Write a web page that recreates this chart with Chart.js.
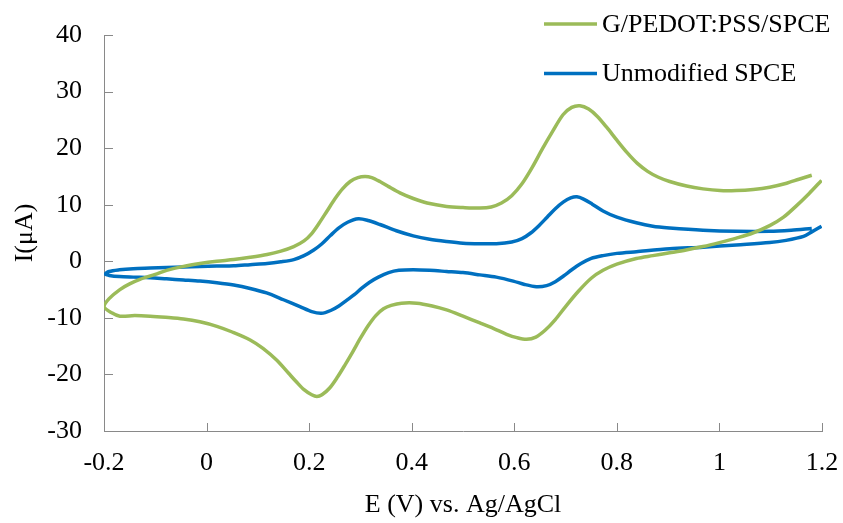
<!DOCTYPE html>
<html lang="en">
<head>
  <meta charset="UTF-8">
  <title>Cyclic voltammogram</title>
  <script src="https://cdn.jsdelivr.net/npm/chart.js"></script>
  <style>
    html, body { margin: 0; padding: 0; background: #fff; }
    #wrap { width: 843px; height: 523px; }
  </style>
</head>
<body>
  <div id="wrap"><canvas id="myChart" width="843" height="523"></canvas></div>
  <script>
    // Series labels
    const seriesLabels = ['G/PEDOT:PSS/SPCE', 'Unmodified SPCE'];

    // G/PEDOT:PSS/SPCE: reverse branch from 1.2 V back to -0.2 V, then forward branch up to 1.18 V
    const gpE = [1.199, 1.175, 1.150, 1.125, 1.098, 1.065, 1.033, 1.000, 0.968, 0.935, 0.903, 0.870, 0.838, 0.800, 0.773, 0.750,
      0.725, 0.700, 0.680, 0.660, 0.642, 0.624, 0.605, 0.585, 0.560, 0.533, 0.500, 0.468, 0.440, 0.410, 0.380, 0.360,
      0.345, 0.330, 0.315, 0.300, 0.285, 0.270, 0.255, 0.240, 0.225, 0.215, 0.205, 0.190, 0.175, 0.160, 0.137, 0.110,
      0.085, 0.050, 0.020, -0.013, -0.045, -0.080, -0.110, -0.140, -0.169, -0.185, -0.200,
      -0.190, -0.169, -0.150, -0.130, -0.100, -0.078, -0.045, -0.013, 0.020, 0.053, 0.085, 0.118, 0.145, 0.170, 0.190,
      0.205, 0.220, 0.235, 0.250, 0.265, 0.280, 0.295, 0.309, 0.322, 0.338, 0.355, 0.377, 0.403, 0.430, 0.468, 0.500,
      0.533, 0.555, 0.575, 0.595, 0.615, 0.635, 0.655, 0.675, 0.695, 0.712, 0.728, 0.745, 0.762, 0.780, 0.800, 0.820,
      0.840, 0.860, 0.880, 0.903, 0.936, 0.968, 1.001, 1.033, 1.066, 1.098, 1.131, 1.155, 1.180];
    const gpI = [14.3, 12.0, 9.8, 7.8, 6.3, 5.0, 4.1, 3.3, 2.6, 2.0, 1.5, 1.0, 0.5, -0.5, -1.6, -3.0,
      -5.3, -8.0, -10.3, -12.2, -13.4, -13.8, -13.5, -12.9, -11.9, -10.9, -9.7, -8.6, -7.9, -7.4, -7.4, -7.8,
      -8.4, -9.6, -11.4, -13.6, -16.0, -18.3, -20.5, -22.4, -23.6, -23.9, -23.6, -22.7, -21.3, -19.8, -17.5, -15.4,
      -13.9, -12.5, -11.5, -10.7, -10.2, -9.9, -9.7, -9.6, -9.7, -9.1, -8.0,
      -6.6, -5.0, -4.0, -3.2, -2.3, -1.6, -0.9, -0.4, 0.0, 0.3, 0.7, 1.2, 1.8, 2.6, 3.6,
      4.9, 6.8, 8.9, 11.0, 12.8, 14.1, 14.8, 15.0, 14.8, 14.1, 13.2, 12.1, 11.1, 10.3, 9.7, 9.5,
      9.4, 9.6, 10.3, 11.6, 13.7, 16.6, 19.9, 23.0, 25.9, 27.2, 27.5, 26.9, 25.6, 23.7, 21.4, 19.2,
      17.3, 15.9, 14.9, 14.1, 13.3, 12.8, 12.5, 12.5, 12.7, 13.1, 13.8, 14.5, 15.2];

    // Unmodified SPCE, same scan order
    const spE = [1.199, 1.180, 1.164, 1.130, 1.098, 1.033, 0.968, 0.903, 0.838, 0.800, 0.773, 0.750, 0.730, 0.712, 0.696,
      0.680, 0.663, 0.643, 0.620, 0.598, 0.565, 0.533, 0.500, 0.468, 0.435, 0.403, 0.375, 0.355, 0.335, 0.318, 0.302,
      0.288, 0.273, 0.258, 0.242, 0.224, 0.205, 0.182, 0.150, 0.117, 0.085, 0.053, 0.020, -0.013, -0.045, -0.078, -0.110,
      -0.143, -0.170, -0.190, -0.198,
      -0.190, -0.170, -0.143, -0.110, -0.078, -0.045, -0.013, 0.020, 0.053, 0.085, 0.118, 0.145, 0.170, 0.190, 0.209,
      0.225, 0.242, 0.258, 0.275, 0.296, 0.315, 0.338, 0.370, 0.403, 0.435, 0.468, 0.500, 0.533, 0.565, 0.595, 0.615,
      0.632, 0.648, 0.664, 0.680, 0.696, 0.710, 0.722, 0.735, 0.752, 0.773, 0.800, 0.838, 0.870, 0.903, 0.968, 1.033,
      1.098, 1.140, 1.180];
    const spI = [6.2, 5.2, 4.4, 3.7, 3.3, 2.9, 2.5, 2.2, 1.7, 1.4, 1.0, 0.5, -0.4, -1.5, -2.6,
      -3.6, -4.3, -4.5, -4.1, -3.5, -2.8, -2.4, -2.0, -1.8, -1.6, -1.5, -1.6, -2.0, -2.8, -3.7, -4.8,
      -5.9, -6.9, -7.9, -8.7, -9.2, -8.9, -8.0, -6.8, -5.6, -4.8, -4.2, -3.8, -3.5, -3.3, -3.1, -2.9,
      -2.8, -2.7, -2.5, -2.3,
      -1.8, -1.5, -1.3, -1.2, -1.1, -1.0, -0.9, -0.85, -0.8, -0.6, -0.4, -0.1, 0.3, 1.0, 2.0,
      3.1, 4.6, 5.9, 6.9, 7.5, 7.2, 6.5, 5.4, 4.5, 3.9, 3.5, 3.2, 3.1, 3.1, 3.4, 4.0,
      5.0, 6.3, 7.8, 9.3, 10.5, 11.2, 11.4, 11.0, 10.1, 8.9, 7.8, 6.8, 6.2, 5.9, 5.5, 5.3,
      5.3, 5.5, 5.8];

    // Axis ticks
    const xTickValues = [-0.2, 0, 0.2, 0.4, 0.6, 0.8, 1, 1.2];
    const xTickLabels = ['-0.2', '0', '0.2', '0.4', '0.6', '0.8', '1', '1.2'];
    const yTickValues = [-30, -20, -10, 0, 10, 20, 30, 40];
    const yTickLabels = ['-30', '-20', '-10', '0', '10', '20', '30', '40'];

    const colors = ['#9BBB59', '#0070C0'];
    const axisColor = '#898989';
    const fontFamily = '"Liberation Serif", "Times New Roman", serif';
    const fontSize = 26;

    function toPoints(xs, ys) {
      return xs.map((x, i) => ({ x: x, y: ys[i] }));
    }

    /**
     * Inward tick marks, like the original Excel plot
     */
    const innerTicks = {
      id: 'innerTicks',
      afterDraw(chart) {
        const ctx = chart.ctx;
        const area = chart.chartArea;
        const xs = chart.scales.x;
        const ys = chart.scales.y;
        ctx.save();
        ctx.strokeStyle = axisColor;
        ctx.lineWidth = 1;
        ctx.beginPath();
        xTickValues.forEach(v => {
          const px = Math.round(xs.getPixelForValue(v)) + 0.5;
          ctx.moveTo(px, area.bottom);
          ctx.lineTo(px, area.bottom - 8);
        });
        yTickValues.forEach(v => {
          const py = Math.round(ys.getPixelForValue(v)) + 0.5;
          ctx.moveTo(area.left, py);
          ctx.lineTo(area.left + 9, py);
        });
        ctx.stroke();
        ctx.restore();
      }
    };

    /**
     * Legend drawn at the top right
     */
    const cornerLegend = {
      id: 'cornerLegend',
      afterDraw(chart) {
        const ctx = chart.ctx;
        ctx.save();
        ctx.font = fontSize + 'px ' + fontFamily;
        ctx.textBaseline = 'middle';
        ctx.textAlign = 'left';
        chart.data.datasets.forEach((ds, i) => {
          const y = 24 + i * 49.5;
          ctx.strokeStyle = ds.borderColor;
          ctx.lineWidth = 3.5;
          ctx.beginPath();
          ctx.moveTo(544, y);
          ctx.lineTo(597, y);
          ctx.stroke();
          ctx.fillStyle = '#000';
          ctx.fillText(ds.label, 602, y + 1);
        });
        ctx.restore();
      }
    };

    const ctx = document.getElementById('myChart').getContext('2d');
    new Chart(ctx, {
      type: 'scatter',
      data: {
        datasets: [
          { label: seriesLabels[0], data: toPoints(gpE, gpI), borderColor: colors[0], backgroundColor: colors[0] },
          { label: seriesLabels[1], data: toPoints(spE, spI), borderColor: colors[1], backgroundColor: colors[1] }
        ]
      },
      options: {
        responsive: false,
        animation: false,
        showLine: true,
        layout: { padding: { top: 35, right: 21, left: 0, bottom: 0 } },
        elements: {
          point: { radius: 0, hoverRadius: 0 },
          line: { borderWidth: 3.5, tension: 0.3, fill: false, capBezierPoints: true }
        },
        plugins: {
          legend: { display: false },
          tooltip: { enabled: false }
        },
        scales: {
          x: {
            type: 'linear',
            min: -0.2,
            max: 1.2,
            afterBuildTicks: s => { s.ticks = xTickValues.map(v => ({ value: v })); },
            afterFit: s => { s.height = 92; s.paddingLeft = 0; s.paddingRight = 0; },
            grid: { display: true, drawOnChartArea: false, drawTicks: false },
            border: { display: true, color: axisColor, width: 1 },
            ticks: {
              padding: 17,
              color: '#000',
              font: { family: fontFamily, size: fontSize },
              maxRotation: 0,
              callback: (v, i) => xTickLabels[i]
            },
            title: {
              display: true,
              text: 'E (V) vs. Ag/AgCl',
              color: '#000',
              font: { family: fontFamily, size: fontSize },
              padding: { top: 0, bottom: 2 }
            }
          },
          y: {
            type: 'linear',
            min: -30,
            max: 40,
            afterBuildTicks: s => { s.ticks = yTickValues.map(v => ({ value: v })); },
            afterFit: s => { s.width = 104; s.paddingTop = 0; s.paddingBottom = 0; },
            grid: { display: true, drawOnChartArea: false, drawTicks: false },
            border: { display: true, color: axisColor, width: 1 },
            ticks: {
              padding: 22,
              color: '#000',
              font: { family: fontFamily, size: fontSize },
              callback: (v, i) => yTickLabels[i]
            },
            title: {
              display: true,
              text: 'I(\u03bcA)',
              color: '#000',
              font: { family: fontFamily, size: fontSize },
              padding: { top: 10, bottom: 0 }
            }
          }
        }
      },
      plugins: [innerTicks, cornerLegend]
    });
  </script>
</body>
</html>
